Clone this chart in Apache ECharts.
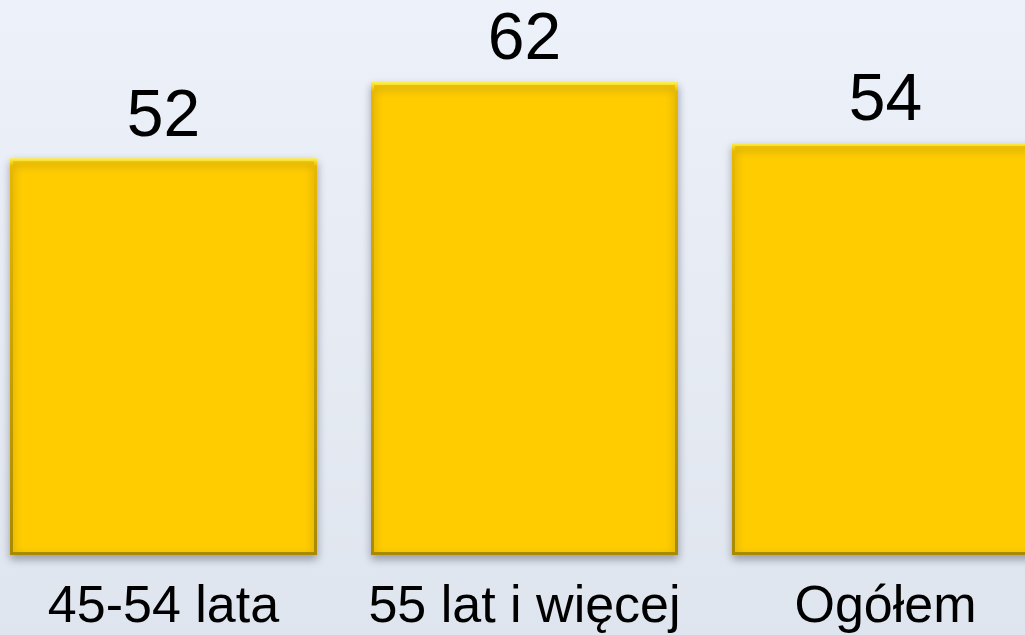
<!DOCTYPE html>
<html>
<head>
<meta charset="utf-8">
<script src="https://cdn.jsdelivr.net/npm/echarts@6/dist/echarts.min.js"></script>
<style>
  html, body { margin: 0; padding: 0; }
  #chart { width: 1025px; height: 635px; }
</style>
</head>
<body>
<div id="chart"></div>
<script>
// dane
var categories = ['45-54 lata', '55 lat i więcej', 'Ogółem'];
var values = [52, 62, 54];

var myChart = echarts.init(document.getElementById('chart'));
myChart.setOption({
    backgroundColor: {
        type: 'linear', x: 0, y: 0, x2: 0, y2: 1,
        colorStops: [
            {offset: 0, color: '#edf1f9'},
            {offset: 1, color: '#dfe5ee'}
        ]
    },
    animation: false,
    grid: {
        left: -17,
        right: -41,
        top: 21,
        bottom: 80,
        outerBoundsMode: 'none'
    },
    xAxis: {
        type: 'category',
        data: categories,
        axisLine: {show: false},
        axisTick: {show: false},
        axisLabel: {
            interval: 0,
            margin: 27,
            fontSize: 52,
            fontFamily: 'Liberation Sans',
            color: '#000'
        }
    },
    yAxis: {
        type: 'value',
        min: 0,
        max: 70,
        show: false
    },
    series: [{
        type: 'bar',
        data: values,
        barWidth: 307,
        itemStyle: {
            color: '#ffcc00',
            borderWidth: 3,
            borderColor: {
                type: 'linear', x: 0, y: 0, x2: 0, y2: 1,
                colorStops: [
                    {offset: 0, color: '#fff04a'},
                    {offset: 0.02, color: '#e8b800'},
                    {offset: 1, color: '#a88a00'}
                ]
            },
            shadowColor: 'rgba(40, 40, 60, 0.35)',
            shadowBlur: 8,
            shadowOffsetY: 4
        },
        label: {
            show: true,
            position: 'top',
            distance: 8,
            fontSize: 66,
            fontFamily: 'Liberation Sans',
            color: '#000'
        }
    }]
});
</script>
</body>
</html>
